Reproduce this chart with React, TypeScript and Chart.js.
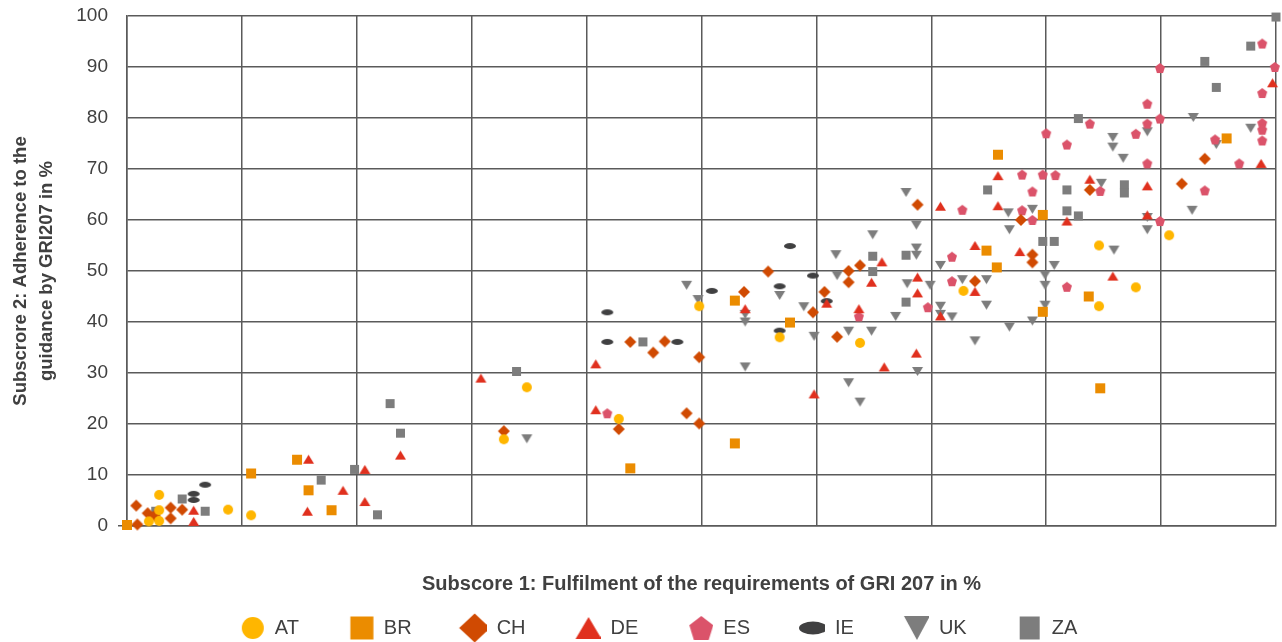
import React, { useEffect, useRef } from "react";
import { Chart, registerables } from "chart.js";

Chart.register(...registerables);

// ---- Data (x = Subscore 1, y = Subscore 2) ----
const AT_POINTS: [number, number][] = [
  [2.8, 6.1], [2.8, 3.1], [1.9, 0.9], [2.8, 1.0], [8.8, 3.2], [10.8, 2.1],
  [34.8, 27.2], [32.8, 17.0], [42.8, 21.0], [49.8, 43.1], [56.8, 37.0],
  [63.8, 35.9], [72.8, 46.1], [84.6, 55.0], [87.8, 46.8], [84.6, 43.1], [90.7, 57.0],
];
const BR_POINTS: [number, number][] = [
  [0, 0.2], [10.8, 10.3], [14.8, 13.0], [15.8, 7.0], [17.8, 3.1], [43.8, 11.3],
  [52.9, 44.2], [52.9, 16.2], [57.7, 39.9], [74.8, 54.0], [75.7, 50.7], [75.8, 72.8],
  [79.7, 61.0], [83.7, 45.0], [79.7, 42.0], [84.7, 27.0], [95.7, 76.0],
];
const CH_POINTS: [number, number][] = [
  [0.8, 4.0], [0.9, 0.3], [1.8, 2.5], [2.4, 2.0], [3.8, 3.6], [4.8, 3.2], [3.8, 1.5],
  [32.8, 18.6], [42.8, 19.0], [43.8, 36.1], [46.8, 36.2], [45.8, 34.0], [49.8, 33.1],
  [48.7, 22.1], [49.8, 20.1], [53.7, 45.9], [55.8, 49.9], [60.7, 45.9], [59.7, 41.9],
  [62.8, 50.0], [63.8, 51.1], [62.8, 47.8], [61.8, 37.1], [73.8, 48.0], [68.8, 63.0],
  [77.8, 60.0], [78.8, 53.2], [78.8, 51.7], [83.8, 65.9], [93.8, 72.0], [91.8, 67.1],
];
const DE_POINTS: [number, number][] = [
  [5.8, 3.1], [5.8, 0.9], [15.8, 13.1], [15.7, 2.9], [18.8, 7.0], [20.7, 11.1],
  [20.7, 4.8], [23.8, 13.9], [30.8, 29.0], [40.8, 31.8], [40.8, 22.8], [53.8, 42.6],
  [60.9, 43.7], [59.8, 25.9], [63.7, 42.6], [64.8, 47.8], [65.7, 51.8], [65.9, 31.2],
  [68.8, 48.8], [68.8, 45.7], [68.7, 33.9], [70.8, 41.2], [73.8, 55.0], [73.8, 46.0],
  [70.8, 62.7], [75.8, 62.8], [75.8, 68.7], [77.7, 53.8], [83.8, 68.0], [81.8, 59.8],
  [88.8, 66.7], [88.8, 61.0], [85.8, 49.0], [98.7, 71.1], [99.7, 86.9],
];
const ES_POINTS: [number, number][] = [
  [41.8, 22.1], [63.7, 41.1], [69.7, 42.9], [71.8, 48.0], [71.8, 52.8], [72.7, 62.0],
  [77.9, 68.9], [79.7, 68.9], [80.8, 68.8], [78.8, 65.6], [77.9, 61.9], [78.8, 60.0],
  [81.8, 46.9], [84.7, 65.7], [88.8, 71.1], [89.9, 59.8], [93.8, 65.8], [96.8, 71.1],
  [80.0, 77.0], [81.8, 74.8], [83.8, 78.9], [87.8, 76.9], [88.8, 78.9], [88.8, 82.8],
  [89.9, 89.8], [89.9, 79.9], [94.7, 75.8], [98.8, 94.6], [99.9, 90.0], [98.8, 84.9],
  [98.8, 79.0], [98.8, 77.7], [98.8, 75.6],
];
const IE_POINTS: [number, number][] = [
  [6.8, 8.1], [5.8, 6.3], [5.8, 5.1], [41.8, 41.9], [41.8, 36.1], [47.9, 36.1],
  [50.9, 46.1], [57.7, 54.9], [56.8, 47.0], [56.8, 38.3], [59.7, 49.1], [60.9, 44.1],
];
const UK_POINTS: [number, number][] = [
  [34.8, 17.1], [48.7, 47.2], [49.7, 44.4], [53.8, 41.5], [53.8, 40.0], [53.8, 31.2],
  [56.8, 45.2], [58.9, 43.0], [59.8, 37.2], [61.7, 53.2], [61.8, 49.1], [62.8, 38.2],
  [64.8, 38.2], [62.8, 28.1], [63.8, 24.3], [64.9, 57.1], [66.9, 41.1], [67.9, 47.5],
  [68.7, 59.0], [68.7, 54.5], [68.7, 53.1], [68.8, 30.3], [69.9, 47.2], [70.8, 51.1],
  [70.8, 43.1], [70.8, 41.5], [71.8, 41.0], [72.7, 48.3], [73.8, 36.3], [74.8, 48.3],
  [74.8, 43.3], [67.8, 65.4], [76.7, 61.4], [78.8, 62.1], [76.8, 58.1], [76.8, 39.0],
  [78.8, 40.2], [79.9, 49.2], [79.9, 47.2], [79.9, 43.3], [80.7, 51.1], [86.7, 72.1],
  [84.8, 67.2], [88.8, 60.5], [88.8, 58.1], [92.7, 61.9], [85.9, 54.1], [85.8, 76.2],
  [85.8, 74.3], [88.8, 77.3], [92.8, 80.1], [97.8, 78.0], [94.8, 74.8],
];
const ZA_POINTS: [number, number][] = [
  [2.5, 2.9], [4.8, 5.3], [6.8, 2.9], [16.9, 9.0], [19.8, 11.1], [21.8, 2.2],
  [22.9, 24.0], [23.8, 18.2], [33.9, 30.3], [44.9, 36.1], [64.9, 52.9], [64.9, 49.9],
  [67.8, 53.1], [67.8, 43.9], [74.9, 65.9], [79.7, 55.8], [80.7, 55.8], [81.8, 65.9],
  [81.8, 61.8], [82.8, 60.8], [86.8, 66.9], [86.8, 65.3], [82.8, 79.9], [93.8, 91.1],
  [94.8, 86.0], [97.8, 94.1], [100, 99.8],
];

const COUNTRIES = ["AT", "BR", "CH", "DE", "ES", "IE", "UK", "ZA"];
const X_TITLE = "Subscore 1: Fulfilment of the requirements of GRI 207 in %";
const Y_TITLE = ["Subscrore 2: Adherence to the", "guidance by GRI207 in %"];
const AXIS_MIN = 0;
const AXIS_MAX = 100;
const AXIS_STEP = 10;

// ---- Styles ----
type Shape = "circle" | "rect" | "diamond" | "tri" | "triDown" | "pent" | "ellipse";
const FONT = "'Liberation Sans', Arial, sans-serif";
const TEXT = "#404040";
const GRID = "#5a5a5a";

const STYLES: { color: string; shape: Shape; pt: [number, number]; lg: [number, number] }[] = [
  { color: "#FFB600", shape: "circle", pt: [10, 10], lg: [22, 22] },
  { color: "#EB8C00", shape: "rect", pt: [10, 10], lg: [23, 23] },
  { color: "#D04A02", shape: "diamond", pt: [12, 12], lg: [31, 29] },
  { color: "#E0301E", shape: "tri", pt: [11, 9], lg: [26, 22] },
  { color: "#DB536A", shape: "pent", pt: [10, 10], lg: [24, 24] },
  { color: "#404041", shape: "ellipse", pt: [12, 6], lg: [28, 13] },
  { color: "#7D7D7D", shape: "triDown", pt: [11, 9], lg: [26, 24] },
  { color: "#7D7D7D", shape: "rect", pt: [9, 9], lg: [20, 23] },
];

function makeMarker(
  shape: Shape, color: string, w: number, h: number,
  cw: number, ch: number, cx: number, cy: number
): HTMLCanvasElement {
  const c = document.createElement("canvas");
  c.width = cw;
  c.height = ch;
  const g = c.getContext("2d")!;
  g.fillStyle = color;
  g.beginPath();
  switch (shape) {
    case "circle":
    case "ellipse":
      g.ellipse(cx, cy, w / 2, h / 2, 0, 0, Math.PI * 2);
      break;
    case "rect":
      g.rect(cx - w / 2, cy - h / 2, w, h);
      break;
    case "diamond":
      g.moveTo(cx, cy - h / 2);
      g.lineTo(cx + w / 2, cy);
      g.lineTo(cx, cy + h / 2);
      g.lineTo(cx - w / 2, cy);
      break;
    case "tri":
      g.moveTo(cx, cy - h / 2);
      g.lineTo(cx + w / 2, cy + h / 2);
      g.lineTo(cx - w / 2, cy + h / 2);
      break;
    case "triDown":
      g.moveTo(cx - w / 2, cy - h / 2);
      g.lineTo(cx + w / 2, cy - h / 2);
      g.lineTo(cx, cy + h / 2);
      break;
    case "pent": {
      const sx = w / 1.902;
      const sy = h / 1.809;
      const off = 0.0955 * sy;
      for (let k = 0; k < 5; k++) {
        const a = -Math.PI / 2 + (k * 2 * Math.PI) / 5;
        const px = cx + sx * Math.cos(a);
        const py = cy + off + sy * Math.sin(a);
        if (k === 0) g.moveTo(px, py);
        else g.lineTo(px, py);
      }
      break;
    }
  }
  g.closePath();
  g.fill();
  return c;
}

const SERIES_DATA = [AT_POINTS, BR_POINTS, CH_POINTS, DE_POINTS, ES_POINTS, IE_POINTS, UK_POINTS, ZA_POINTS];

const LEGEND_BOX = 65;

export default function App() {
  const ref = useRef<HTMLCanvasElement | null>(null);

  useEffect(() => {
    if (!ref.current) return;
    const pointImgs = STYLES.map((s) =>
      makeMarker(s.shape, s.color, s.pt[0], s.pt[1], s.pt[0] + 4, s.pt[1] + 4, (s.pt[0] + 4) / 2, (s.pt[1] + 4) / 2)
    );
    const legendImgs = STYLES.map((s) =>
      makeMarker(s.shape, s.color, s.lg[0], s.lg[1], LEGEND_BOX, 34, LEGEND_BOX - 12, 17)
    );

    const chart = new Chart(ref.current, {
      type: "scatter",
      data: {
        datasets: COUNTRIES.map((label, i) => ({
          label,
          data: SERIES_DATA[i].map(([x, y]) => ({ x, y })),
          pointStyle: pointImgs[i] as any,
          backgroundColor: STYLES[i].color,
          borderColor: STYLES[i].color,
          pointRadius: 5,
          pointHoverRadius: 5,
          showLine: false,
          clip: false as any,
        })),
      },
      options: {
        responsive: false,
        animation: false,
        devicePixelRatio: 1,
        events: [],
        layout: { padding: { top: 16, right: 5, bottom: 0, left: 0 } },
        plugins: {
          tooltip: { enabled: false },
          legend: {
            position: "bottom",
            labels: {
              usePointStyle: true,
              pointStyleWidth: LEGEND_BOX,
              padding: 10,
              color: TEXT,
              font: { family: FONT, size: 20 },
              generateLabels: () =>
                COUNTRIES.map((label, i) => ({
                  text: label,
                  pointStyle: legendImgs[i] as any,
                  fillStyle: STYLES[i].color,
                  strokeStyle: STYLES[i].color,
                  lineWidth: 0,
                  hidden: false,
                  datasetIndex: i,
                  rotation: 0,
                  fontColor: TEXT,
                })),
            },
          },
        },
        scales: {
          x: {
            type: "linear",
            min: AXIS_MIN,
            max: AXIS_MAX,
            ticks: { stepSize: AXIS_STEP, display: false },
            grid: { color: GRID, lineWidth: 1.5, drawTicks: false },
            border: { color: GRID, width: 1.5 },
            title: {
              display: true,
              text: X_TITLE,
              color: TEXT,
              font: { family: FONT, size: 20, weight: "bold" },
              padding: { top: 0, bottom: 12 },
            },
            afterFit: (s: any) => {
              s.height = 82;
              s.paddingLeft = 0;
              s.paddingRight = 0;
            },
          },
          y: {
            type: "linear",
            min: AXIS_MIN,
            max: AXIS_MAX,
            ticks: {
              stepSize: AXIS_STEP,
              padding: 10,
              color: TEXT,
              font: { family: FONT, size: 19 },
            },
            grid: {
              color: GRID,
              lineWidth: 1.5,
              drawTicks: true,
              tickLength: 9,
              tickColor: (ctx: any) => (ctx.tick && ctx.tick.value === 0 ? GRID : "rgba(0,0,0,0)"),
            },
            border: { color: GRID, width: 1.5 },
            title: {
              display: true,
              text: Y_TITLE,
              color: TEXT,
              font: { family: FONT, size: 18.5, weight: "bold", lineHeight: 26 / 18.5 },
              padding: { top: 8, bottom: 0 },
            },
            afterFit: (s: any) => {
              s.width = 127;
              s.paddingTop = 0;
              s.paddingBottom = 0;
            },
          },
        },
      } as any,
    });
    return () => chart.destroy();
  }, []);

  return (
    <div style={{ position: "fixed", left: 0, top: 0, width: 1282, height: 648, background: "#fff" }}>
      <canvas ref={ref} width={1282} height={648} style={{ display: "block", width: 1282, height: 648 }} />
    </div>
  );
}
